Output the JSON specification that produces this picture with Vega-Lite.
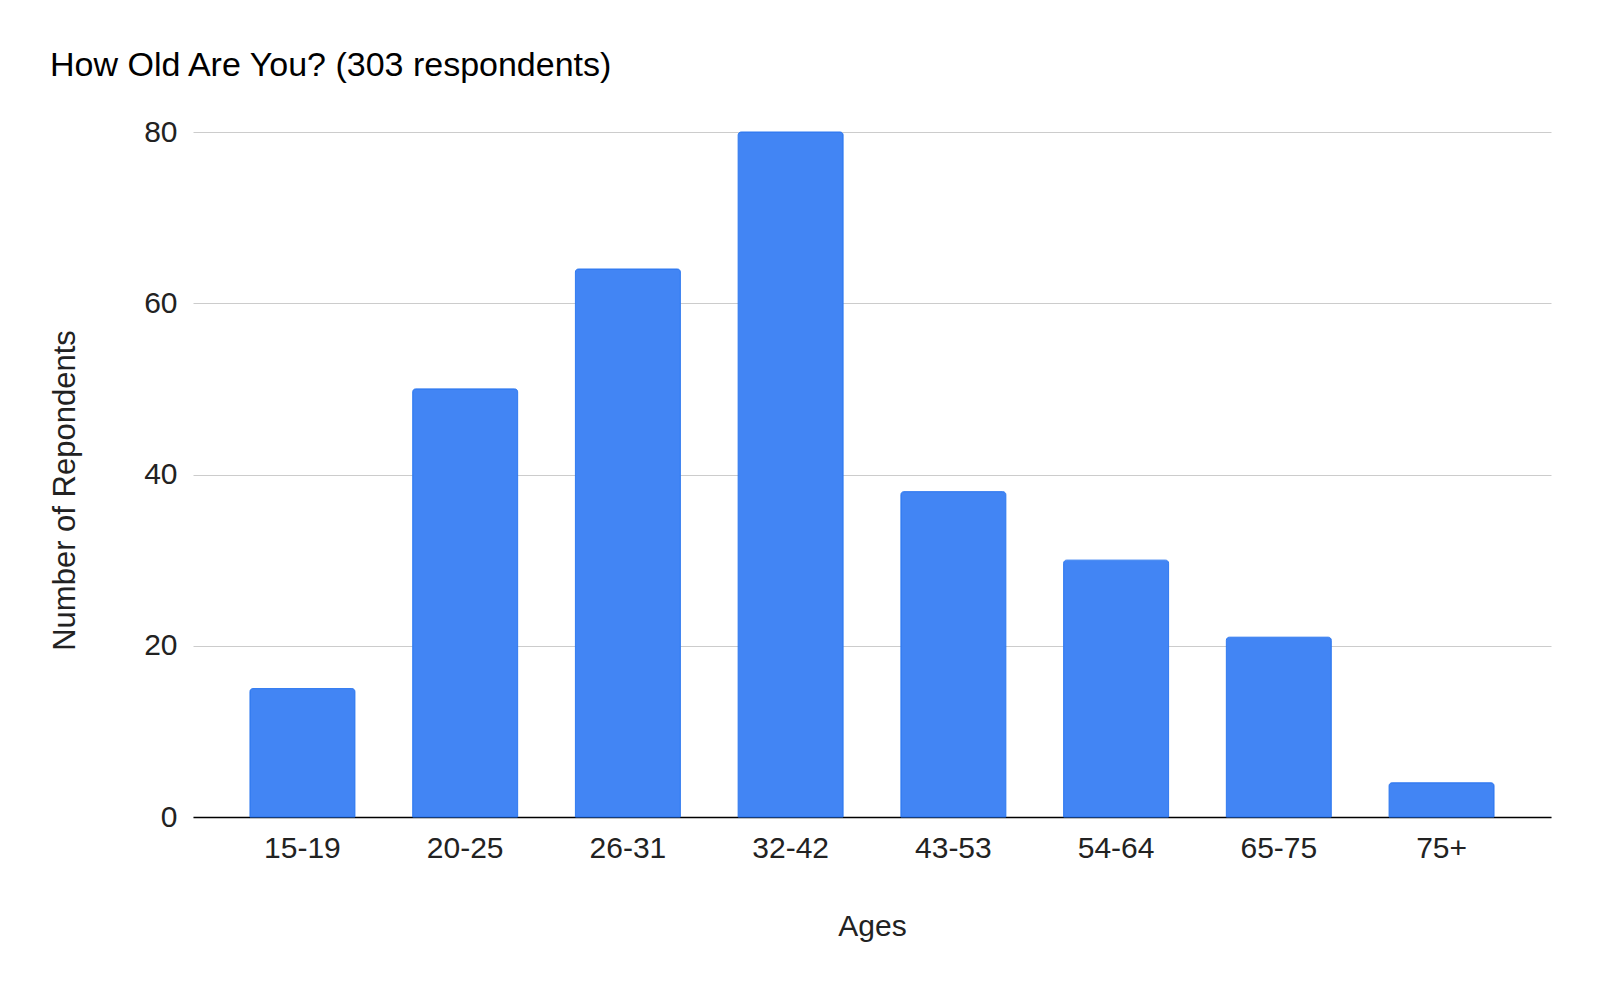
{
  "$schema": "https://vega.github.io/schema/vega-lite/v6.json",
  "width": 1358,
  "height": 685,
  "autosize": "none",
  "padding": {"left": 193, "top": 132, "right": 49, "bottom": 173},
  "background": "white",
  "title": {
    "text": "How Old Are You? (303 respondents)",
    "anchor": "start",
    "frame": "group",
    "dx": -143,
    "offset": 34,
    "font": "Liberation Sans",
    "fontSize": 34,
    "fontWeight": "normal",
    "color": "#000000"
  },
  "data": {
    "values": [
      {"age": "15-19", "count": 15},
      {"age": "20-25", "count": 50},
      {"age": "26-31", "count": 64},
      {"age": "32-42", "count": 80},
      {"age": "43-53", "count": 38},
      {"age": "54-64", "count": 30},
      {"age": "65-75", "count": 21},
      {"age": "75+", "count": 4}
    ]
  },
  "mark": {
    "type": "bar",
    "color": "#4285F4",
    "stroke": "#2f79f0",
    "strokeWidth": 1,
    "cornerRadiusEnd": 3
  },
  "encoding": {
    "x": {
      "field": "age",
      "type": "nominal",
      "sort": null,
      "scale": {"paddingInner": 0.355, "paddingOuter": 0.35},
      "axis": {
        "title": "Ages",
        "labelAngle": 0,
        "ticks": false,
        "domainColor": "#000000",
        "domainWidth": 1.5,
        "labelPadding": 16,
        "labelFont": "Liberation Sans",
        "labelFontSize": 30,
        "labelColor": "#222222",
        "titleFont": "Liberation Sans",
        "titleFontSize": 30,
        "titleFontWeight": "normal",
        "titleColor": "#222222",
        "titlePadding": 48
      }
    },
    "y": {
      "field": "count",
      "type": "quantitative",
      "scale": {"domain": [0, 80]},
      "axis": {
        "title": "Number of Repondents",
        "values": [0, 20, 40, 60, 80],
        "domain": false,
        "ticks": false,
        "gridColor": "#cccccc",
        "gridWidth": 1,
        "labelPadding": 16,
        "labelFont": "Liberation Sans",
        "labelFontSize": 30,
        "labelColor": "#222222",
        "titleFont": "Liberation Sans",
        "titleFontSize": 31,
        "titleFontWeight": "normal",
        "titleColor": "#222222",
        "titlePadding": 62,
        "titleY": 358
      }
    }
  },
  "config": {"view": {"stroke": null}}
}
